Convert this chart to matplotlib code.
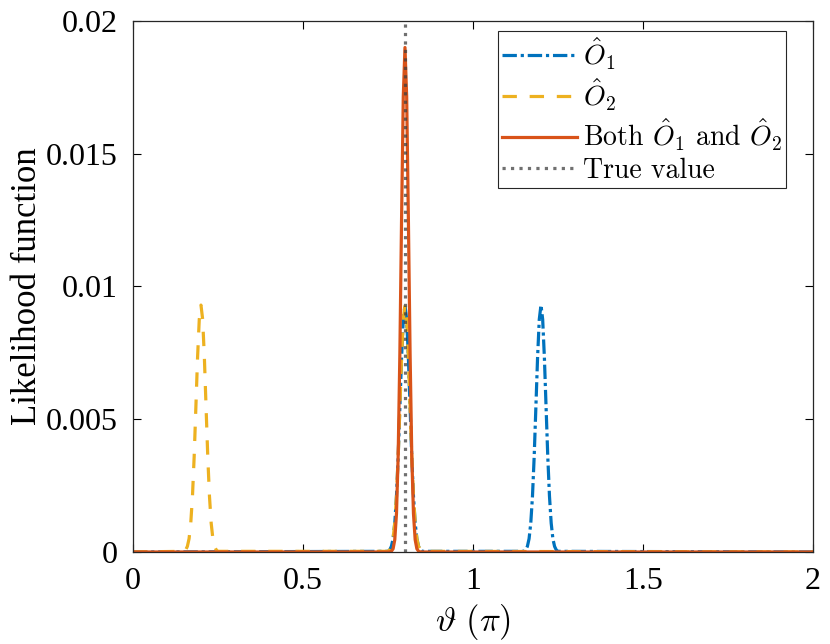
import matplotlib
matplotlib.use("Agg")
import matplotlib.pyplot as plt

plt.rcParams['mathtext.fontset'] = 'cm'
plt.rcParams['font.family'] = ['Liberation Serif', 'DejaVu Serif']

offsets = [-0.05, -0.045, -0.04, -0.035, -0.03, -0.025, -0.02, -0.015, -0.01, -0.005, 0.0,
           0.005, 0.01, 0.015, 0.02, 0.025, 0.03, 0.035, 0.04, 0.045, 0.05]
single_peak = [0.000024, 0.000075, 0.00021, 0.00050, 0.00109, 0.00210, 0.00359, 0.00545, 0.00733, 0.00876, 0.0093,
               0.00876, 0.00733, 0.00545, 0.00359, 0.00210, 0.00109, 0.00050, 0.00021, 0.000075, 0.000024]
both_peak = [0.0, 0.0000044, 0.000026, 0.00012, 0.00046, 0.00144, 0.00364, 0.00750, 0.01257, 0.01714, 0.0190,
             0.01714, 0.01257, 0.00750, 0.00364, 0.00144, 0.00046, 0.00012, 0.000026, 0.0000044, 0.0]

o1_centres = [0.8, 1.2]
o2_centres = [0.2, 0.8]
both_centres = [0.8]
true_value = 0.8

xticks = [0, 0.5, 1, 1.5, 2]
xtick_labels = ['0', '0.5', '1', '1.5', '2']
yticks = [0, 0.005, 0.01, 0.015, 0.02]
ytick_labels = ['0', '0.005', '0.01', '0.015', '0.02']


def build_curve(centres, peak):
    xs, ys = [0.0], [0.0]
    for c in centres:
        xs += [c + d for d in offsets]
        ys += peak
    xs.append(2.0)
    ys.append(0.0)
    return xs, ys


blue = '#0072BD'
yellow = '#EDB120'
red = '#D95319'

fig = plt.figure(figsize=(8.3, 6.44), dpi=100)
ax = fig.add_axes([0.1602, 0.1429, 0.8193, 0.8245])

x1, y1 = build_curve(o1_centres, single_peak)
x2, y2 = build_curve(o2_centres, single_peak)
xb, yb = build_curve(both_centres, both_peak)

ax.plot(x1, y1, color=blue, lw=2.3, dashes=(4.5, 1.2, 1.0, 1.2), label=r'$\hat{O}_1$')
ax.plot(x2, y2, color=yellow, lw=2.3, dashes=(4.5, 4.0), label=r'$\hat{O}_2$')
ax.plot(xb, yb, '-', color=red, lw=2.3, label=r'Both $\hat{O}_1$ and $\hat{O}_2$')
ax.plot([true_value, true_value], [0, 0.02], ':', color='#404040', alpha=0.75, lw=2.3,
        label='True value')

ax.set_xlim(0, 2)
ax.set_ylim(0, 0.02)
ax.set_xticks(xticks)
ax.set_xticklabels(xtick_labels)
ax.set_yticks(yticks)
ax.set_yticklabels(ytick_labels)
ax.tick_params(direction='in', length=6, width=0.8, top=True, right=True, labelsize=23)
ax.tick_params(axis='x', pad=11)
ax.tick_params(axis='y', pad=11)
for s in ax.spines.values():
    s.set_linewidth(0.9)
    s.set_color('#262626')

ax.set_xlabel(r'$\vartheta\ (\pi)$', fontsize=25, labelpad=4)
ax.set_ylabel('Likelihood function', fontsize=25, labelpad=1)

leg = ax.legend(loc='upper right', bbox_to_anchor=(0.960, 0.981),
                prop={'family': 'cmr10', 'size': 20},
                fancybox=False, edgecolor='#262626', framealpha=1, handlelength=2.7,
                borderaxespad=0.0, labelspacing=0.15, handletextpad=0.2, borderpad=0.14)
leg.get_frame().set_linewidth(0.8)

fig.savefig('out.png', dpi=100)
